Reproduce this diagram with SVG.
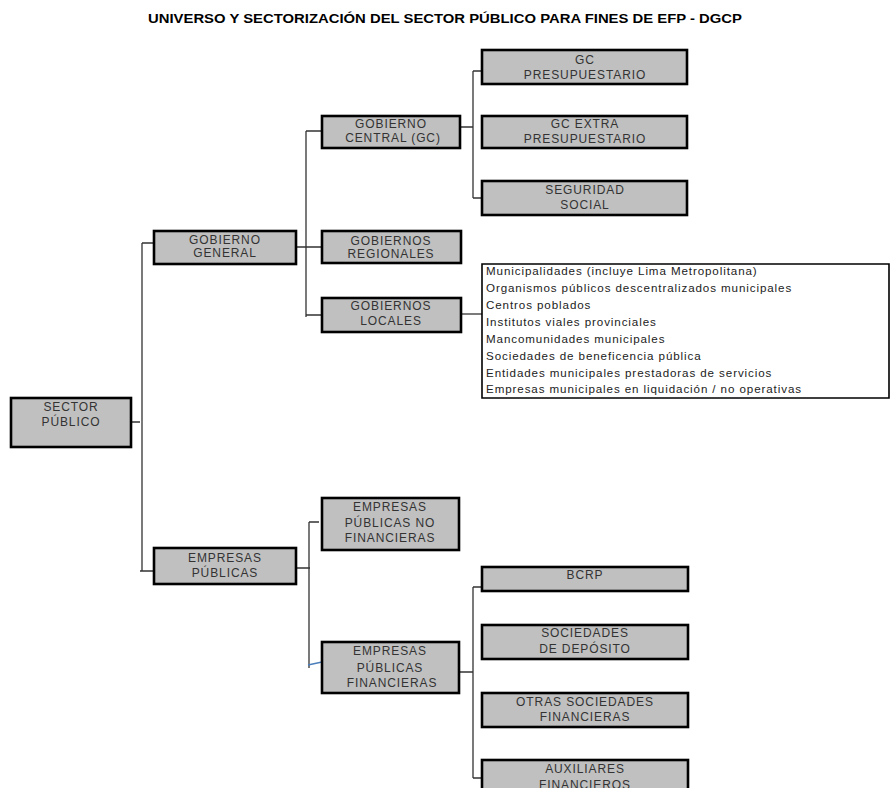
<svg xmlns="http://www.w3.org/2000/svg" width="891" height="788" viewBox="0 0 891 788">
<style>
.bx{fill:#c0c0c0;stroke:#000;stroke-width:2.6}
.t{font-family:"Liberation Sans",Arial,sans-serif;font-size:12px;fill:#333;text-anchor:middle;letter-spacing:0.9px}
.l{font-family:"Liberation Sans",Arial,sans-serif;font-size:11.6px;fill:#222;letter-spacing:0.9px}
.c{fill:none;stroke:#333;stroke-width:1.3}
.title{font-family:"Liberation Sans",Arial,sans-serif;font-size:13.5px;font-weight:bold;fill:#000;text-anchor:middle}
</style>
<rect width="891" height="788" fill="#fff"/>
<text class="title" x="445" y="23" textLength="594" lengthAdjust="spacingAndGlyphs">UNIVERSO Y SECTORIZACIÓN DEL SECTOR PÚBLICO PARA FINES DE EFP - DGCP</text>
<g id="connectors">
<path class="c" d="M131 422H140M142 243V571M142 243H154M140 571H154"/>
<path class="c" d="M296 247H322M306 131V317M306 131H322M306 315H322"/>
<path class="c" d="M460 127H473M473 71V198M473 71H482M473 198H482"/>
<path class="c" d="M461 314H482"/>
<path class="c" d="M296 568H310M309 522V668M309 522H319"/>
<path d="M308 665L322 662" fill="none" stroke="#4a7ebb" stroke-width="1.3"/>
<path class="c" d="M459 672H473M473 587V778M473 587H482M473 778H482"/>
</g>
<g id="sector-publico"><rect class="bx" x="11" y="398" width="120" height="49"/><text class="t" x="71" y="411">SECTOR</text><text class="t" x="71" y="426">PÚBLICO</text></g>
<g id="gobierno-general"><rect class="bx" x="154" y="231" width="142" height="33"/><text class="t" x="225" y="244">GOBIERNO</text><text class="t" x="225" y="257">GENERAL</text></g>
<g id="gobierno-central"><rect class="bx" x="322" y="116" width="138" height="32"/><text class="t" x="391" y="128">GOBIERNO</text><text class="t" x="393" y="142">CENTRAL  (GC)</text></g>
<g id="gc-presupuestario"><rect class="bx" x="482" y="50" width="205" height="34"/><text class="t" x="585" y="64">GC</text><text class="t" x="585" y="79">PRESUPUESTARIO</text></g>
<g id="gc-extra"><rect class="bx" x="482" y="116" width="205" height="32"/><text class="t" x="585" y="128">GC EXTRA</text><text class="t" x="585" y="143">PRESUPUESTARIO</text></g>
<g id="seguridad-social"><rect class="bx" x="482" y="181" width="205" height="34"/><text class="t" x="585" y="194">SEGURIDAD</text><text class="t" x="585" y="209">SOCIAL</text></g>
<g id="gobiernos-regionales"><rect class="bx" x="322" y="231" width="139" height="32"/><text class="t" x="391" y="245">GOBIERNOS</text><text class="t" x="391" y="258">REGIONALES</text></g>
<g id="gobiernos-locales"><rect class="bx" x="322" y="298" width="139" height="34"/><text class="t" x="391" y="310">GOBIERNOS</text><text class="t" x="391" y="325">LOCALES</text></g>
<g id="lista-locales">
<path d="M482 264H889V398H482Z" fill="#fff" stroke="#000" stroke-width="1.6"/>
<text class="l" x="486" y="275">Municipalidades (incluye Lima Metropolitana)</text>
<text class="l" x="486" y="292">Organismos públicos descentralizados municipales</text>
<text class="l" x="486" y="309">Centros poblados</text>
<text class="l" x="486" y="326">Institutos viales provinciales</text>
<text class="l" x="486" y="343">Mancomunidades municipales</text>
<text class="l" x="486" y="360">Sociedades de beneficencia pública</text>
<text class="l" x="486" y="377">Entidades municipales prestadoras de servicios</text>
<text class="l" x="486" y="393">Empresas municipales en liquidación / no operativas</text>
</g>
<g id="empresas-publicas"><rect class="bx" x="154" y="548" width="142" height="36"/><text class="t" x="225" y="562">EMPRESAS</text><text class="t" x="225" y="577">PÚBLICAS</text></g>
<g id="epnf"><rect class="bx" x="322" y="498" width="137" height="52"/><text class="t" x="390" y="511">EMPRESAS</text><text class="t" x="390" y="527">PÚBLICAS NO</text><text class="t" x="390" y="542">FINANCIERAS</text></g>
<g id="epf"><rect class="bx" x="322" y="642" width="137" height="51"/><text class="t" x="390" y="655">EMPRESAS</text><text class="t" x="390" y="672">PÚBLICAS</text><text class="t" x="392" y="687">FINANCIERAS</text></g>
<g id="bcrp"><rect class="bx" x="482" y="567" width="206" height="24"/><text class="t" x="585" y="579">BCRP</text></g>
<g id="sociedades-deposito"><rect class="bx" x="482" y="625" width="206" height="34"/><text class="t" x="585" y="637">SOCIEDADES</text><text class="t" x="585" y="653">DE DEPÓSITO</text></g>
<g id="otras-sociedades"><rect class="bx" x="482" y="693" width="206" height="34"/><text class="t" x="585" y="706">OTRAS SOCIEDADES</text><text class="t" x="585" y="721">FINANCIERAS</text></g>
<g id="auxiliares"><rect class="bx" x="482" y="760" width="206" height="40"/><text class="t" x="585" y="773">AUXILIARES</text><text class="t" x="585" y="789">FINANCIEROS</text></g>
</svg>
